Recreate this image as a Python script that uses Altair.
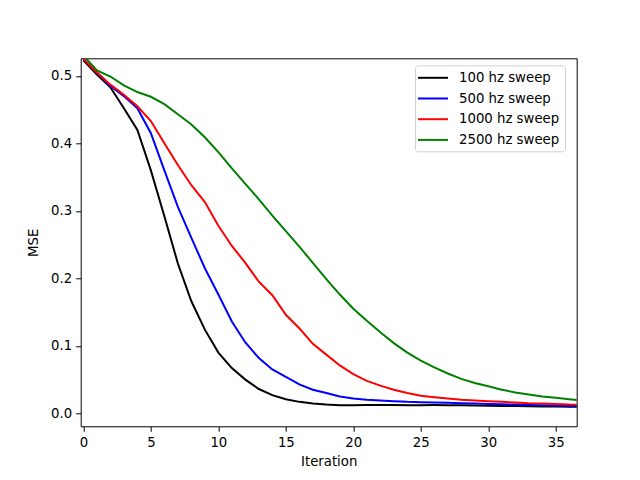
import altair as alt
import pandas as pd

iterations = list(range(38))
series_names = ["100 hz sweep", "500 hz sweep", "1000 hz sweep", "2500 hz sweep"]
series_colors = ["#000000", "#0000ff", "#ff0000", "#008000"]

mse_100 = [0.523, 0.502, 0.483, 0.452, 0.42, 0.36, 0.292, 0.222, 0.166, 0.124,
           0.090, 0.067, 0.050, 0.036, 0.027, 0.021, 0.017, 0.0145, 0.013, 0.012,
           0.012, 0.0122, 0.0125, 0.0122, 0.012, 0.012, 0.0122, 0.012, 0.0118, 0.0115,
           0.0113, 0.011, 0.0108, 0.0105, 0.0103, 0.010, 0.0098, 0.0096]
mse_500 = [0.525, 0.505, 0.485, 0.47, 0.452, 0.415, 0.36, 0.306, 0.26, 0.215,
           0.176, 0.136, 0.105, 0.082, 0.065, 0.054, 0.043, 0.035, 0.030, 0.025,
           0.022, 0.020, 0.019, 0.018, 0.017, 0.0165, 0.016, 0.0155, 0.015, 0.0145,
           0.014, 0.0135, 0.013, 0.0125, 0.012, 0.0115, 0.011, 0.0105]
mse_1000 = [0.525, 0.505, 0.487, 0.472, 0.455, 0.433, 0.40, 0.368, 0.338, 0.313,
            0.278, 0.248, 0.223, 0.195, 0.175, 0.146, 0.126, 0.103, 0.087, 0.071,
            0.058, 0.048, 0.041, 0.035, 0.030, 0.026, 0.024, 0.022, 0.020, 0.019,
            0.018, 0.017, 0.016, 0.015, 0.0145, 0.014, 0.013, 0.0125]
mse_2500 = [0.53, 0.508, 0.499, 0.486, 0.476, 0.469, 0.458, 0.443, 0.428, 0.409,
            0.387, 0.363, 0.34, 0.317, 0.293, 0.27, 0.247, 0.223, 0.199, 0.176,
            0.155, 0.137, 0.12, 0.104, 0.09, 0.078, 0.068, 0.059, 0.051, 0.045,
            0.040, 0.035, 0.031, 0.028, 0.025, 0.023, 0.021, 0.019]

x_ticks = [0, 5, 10, 15, 20, 25, 30, 35]
y_ticks = [0.0, 0.1, 0.2, 0.3, 0.4, 0.5]

rows = []
for name, vals in zip(series_names, [mse_100, mse_500, mse_1000, mse_2500]):
    for it, v in zip(iterations, vals):
        rows.append({"Iteration": it, "MSE": v, "series": name})
df = pd.DataFrame(rows)

FONT = "DejaVu Sans"

chart = alt.Chart(df).mark_line(strokeWidth=2, clip=True).encode(
    x=alt.X("Iteration:Q",
            scale=alt.Scale(domain=[-0.2, 36.55], nice=False, zero=False),
            axis=alt.Axis(values=x_ticks, format="d", title="Iteration")),
    y=alt.Y("MSE:Q",
            scale=alt.Scale(domain=[-0.0192, 0.526], nice=False, zero=False),
            axis=alt.Axis(values=y_ticks, format=".1f", title="MSE")),
    color=alt.Color("series:N",
                    scale=alt.Scale(domain=series_names, range=series_colors),
                    sort=series_names,
                    legend=alt.Legend(title=None, orient="none",
                                      legendX=334.3, legendY=7,
                                      symbolType="M-2.31,0H2.31", symbolSize=169,
                                      symbolStrokeWidth=2,
                                      symbolOffset=5.5,
                                      labelFont=FONT, labelFontSize=13.3,
                                      labelColor="black",
                                      labelOffset=18.5,
                                      rowPadding=6.7,
                                      padding=5,
                                      fillColor="white",
                                      strokeColor="#d0d0d0",
                                      cornerRadius=3)),
    detail="series:N",
).properties(
    width=496, height=368,
    autosize=alt.AutoSizeParams(type="none"),
    padding={"left": 72.7, "top": 50.3, "right": 40, "bottom": 42},
).configure_view(
    stroke="black", strokeWidth=1
).configure_axis(
    grid=False,
    domain=False,
    labelFont=FONT, labelFontSize=13.3, labelColor="black",
    titleFont=FONT, titleFontSize=13.3, titleFontWeight="normal", titleColor="black",
    tickColor="black", tickSize=5, tickWidth=1,
    labelPadding=4,
).configure_axisY(
    titlePadding=10
).configure_axisX(
    titlePadding=6
)

chart.save("out.html", embed_options={"renderer": "svg", "actions": False})
